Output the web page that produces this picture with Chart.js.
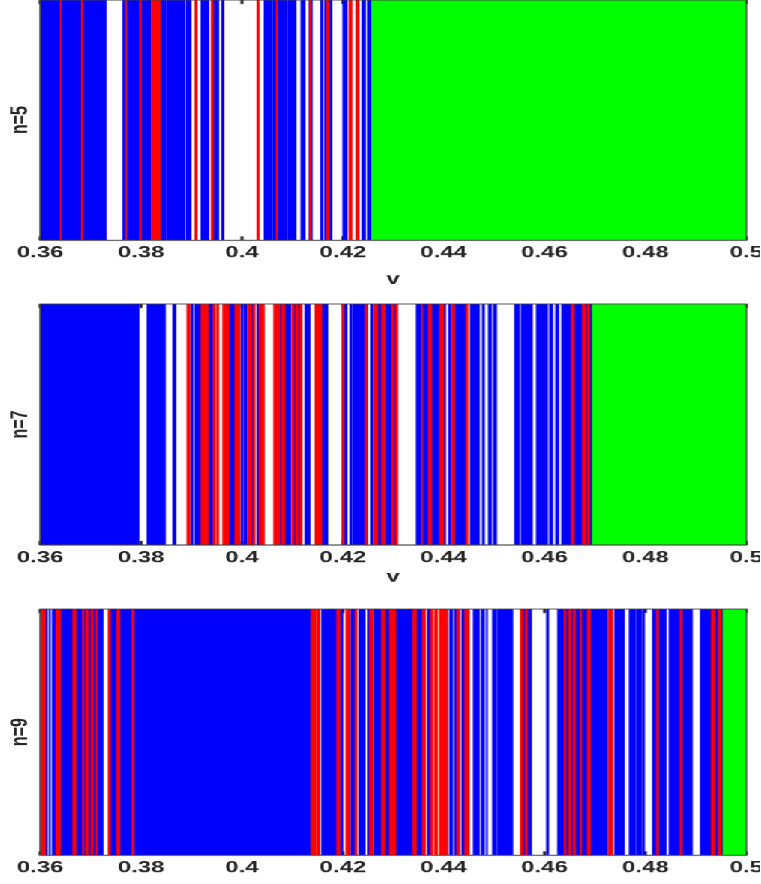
<!DOCTYPE html>
<html>
<head>
<meta charset="utf-8">
<script src="https://cdn.jsdelivr.net/npm/chart.js@4.4.1/dist/chart.umd.min.js"></script>
<style>
  html, body { margin: 0; padding: 0; background: #fff; overflow: hidden; width: 761px; height: 884px; }
  /* the original figure is stretched sideways, so the whole page is drawn narrow and widened */
  #stretch { position: absolute; left: 0; top: 0; width: 507.333px; height: 884px; transform: scaleX(1.5); transform-origin: 0 0; }
  .panel { position: absolute; left: 0; width: 507.333px; }
</style>
</head>
<body>
<div id="stretch">
  <div class="panel" style="top:-5px;height:295px"><canvas id="c5"></canvas></div>
  <div class="panel" style="top:299px;height:296px"><canvas id="c7"></canvas></div>
  <div class="panel" style="top:604px;height:301px"><canvas id="c9"></canvas></div>
</div>
<script>
const band = ['band'];
const xTicks = [0.36, 0.38, 0.40, 0.42, 0.44, 0.46, 0.48, 0.50];

// n=5 : intervals of v
const blue5 = [[0.3600,0.3731],[0.3764,0.3820],[0.3838,0.3849],[0.3851,0.3887],[0.3890,0.3899],
  [0.3919,0.3934],[0.3943,0.3954],[0.3960,0.3964],[0.4044,0.4059],[0.4061,0.4089],[0.4091,0.4107],
  [0.4117,0.4125],[0.4133,0.4139],[0.4156,0.4160],[0.4164,0.4178],[0.4200,0.4208],[0.4238,0.4245],
  [0.4249,0.4255]];
const red5 = [[0.3640,0.3642],[0.3682,0.3684],[0.3769,0.3771],[0.3797,0.3800],[0.3822,0.3838],
  [0.3907,0.3911],[0.3939,0.3943],[0.4030,0.4034],[0.4068,0.4070],[0.4134,0.4136],[0.4168,0.4172],
  [0.4212,0.4218],[0.4226,0.4232]];
const green5 = [[0.4255,0.5000]];

// n=7
const blue7 = [[0.3600,0.3796],[0.3812,0.3848],[0.3863,0.3869],[0.3899,0.3903],[0.3907,0.3919],
  [0.3933,0.3943],[0.3970,0.3986],[0.3998,0.4002],[0.4004,0.4010],[0.4018,0.4022],[0.4030,0.4034],
  [0.4075,0.4079],[0.4085,0.4097],[0.4103,0.4115],[0.4125,0.4135],[0.4158,0.4170],[0.4202,0.4208],
  [0.4214,0.4218],[0.4220,0.4244],[0.4255,0.4259],[0.4269,0.4277],[0.4285,0.4297],[0.4301,0.4305],
  [0.4346,0.4356],[0.4358,0.4370],[0.4376,0.4392],[0.4400,0.4404],[0.4410,0.4414],[0.4422,0.4444],
  [0.4453,0.4471],[0.4477,0.4481],[0.4489,0.4495],[0.4499,0.4505],[0.4541,0.4550],[0.4554,0.4576],
  [0.4584,0.4606],[0.4610,0.4616],[0.4622,0.4628],[0.4634,0.4675],[0.4681,0.4693]];
const red7 = [[0.3891,0.3897],[0.3919,0.3933],[0.3943,0.3947],[0.3950,0.3954],[0.3962,0.3970],
  [0.3972,0.3974],[0.3986,0.3996],[0.4012,0.4018],[0.4022,0.4026],[0.4034,0.4044],[0.4063,0.4075],
  [0.4079,0.4085],[0.4099,0.4103],[0.4107,0.4111],[0.4115,0.4119],[0.4145,0.4158],[0.4198,0.4202],
  [0.4244,0.4249],[0.4261,0.4269],[0.4277,0.4283],[0.4297,0.4301],[0.4305,0.4309],[0.4356,0.4358],
  [0.4370,0.4376],[0.4392,0.4400],[0.4416,0.4422],[0.4444,0.4448],[0.4653,0.4659],[0.4675,0.4681],
  [0.4685,0.4689]];
const green7 = [[0.4693,0.5000]];

// n=9
const blue9 = [[0.3610,0.3614],[0.3618,0.3620],[0.3624,0.3632],[0.3640,0.3665],[0.3671,0.3691],
  [0.3695,0.3701],[0.3705,0.3725],[0.3739,0.3752],[0.3758,0.4137],[0.4158,0.4188],[0.4194,0.4200],
  [0.4216,0.4224],[0.4232,0.4244],[0.4249,0.4253],[0.4261,0.4277],[0.4283,0.4293],[0.4305,0.4339],
  [0.4346,0.4358],[0.4368,0.4374],[0.4412,0.4418],[0.4422,0.4426],[0.4436,0.4442],[0.4459,0.4471],
  [0.4475,0.4481],[0.4485,0.4487],[0.4497,0.4505],[0.4507,0.4537],[0.4556,0.4562],[0.4566,0.4574],
  [0.4604,0.4608],[0.4626,0.4636],[0.4663,0.4671],[0.4673,0.4683],[0.4693,0.4725],[0.4739,0.4758],
  [0.4768,0.4780],[0.4782,0.4792],[0.4794,0.4798],[0.4814,0.4822],[0.4826,0.4841],[0.4847,0.4869],
  [0.4873,0.4893],[0.4909,0.4931],[0.4937,0.4944],[0.4950,0.4952],
  [0.4636,0.4647],[0.4653,0.4657],[0.4661,0.4663],[0.4683,0.4685],[0.4691,0.4693]];
const red9 = [[0.3600,0.3610],[0.3632,0.3640],[0.3665,0.3671],[0.3684,0.3687],[0.3691,0.3695],
  [0.3701,0.3705],[0.3711,0.3713],[0.3735,0.3739],[0.3752,0.3758],[0.3782,0.3786],[0.4137,0.4146],
  [0.4148,0.4154],[0.4188,0.4194],[0.4206,0.4214],[0.4224,0.4228],[0.4253,0.4259],[0.4277,0.4283],
  [0.4293,0.4305],[0.4339,0.4346],[0.4358,0.4364],[0.4374,0.4378],[0.4382,0.4388],[0.4392,0.4408],
  [0.4426,0.4432],[0.4442,0.4451],[0.4552,0.4556],[0.4562,0.4566],[0.4639,0.4642],[0.4648,0.4651],
  [0.4657,0.4661],[0.4671,0.4673],[0.4685,0.4691],[0.4727,0.4735],[0.4822,0.4826],[0.4869,0.4873],
  [0.4931,0.4937],[0.4944,0.4950]];
const green9 = [[0.4952,0.5000]];

const ink = '#262626';

// inward tick marks under the bars, box on top
const frame = {
  id: 'frame',
  beforeDatasetsDraw(chart) {
    const { ctx, chartArea: a, scales: { x } } = chart;
    ctx.save();
    ctx.strokeStyle = ink;
    ctx.lineWidth = 2;
    x.ticks.forEach(t => {
      const px = x.getPixelForValue(t.value);
      ctx.beginPath();
      ctx.moveTo(px, a.top); ctx.lineTo(px, a.top + 4);
      ctx.moveTo(px, a.bottom); ctx.lineTo(px, a.bottom - 4);
      ctx.stroke();
    });
    ctx.restore();
  },
  afterDatasetsDraw(chart) {
    const { ctx, chartArea: a } = chart;
    ctx.save();
    ctx.strokeStyle = '#404040';
    ctx.lineWidth = 1;
    ctx.strokeRect(a.left, a.top, a.right - a.left, a.bottom - a.top);
    ctx.restore();
  }
};

const toBars = list => list.map(r => ({ x: r, y: band[0] }));

function makePanel(id, label, red, blue, green, vPad) {
  new Chart(document.getElementById(id), {
    type: 'bar',
    data: {
      labels: band,
      datasets: [
        { data: toBars(red), backgroundColor: '#ff0000' },
        { data: toBars(blue), backgroundColor: '#0000ff' },
        { data: toBars(green), backgroundColor: '#00ff00' }
      ]
    },
    options: {
      indexAxis: 'y',
      responsive: true,
      maintainAspectRatio: false,
      devicePixelRatio: 1.5,
      animation: false,
      events: [],
      layout: { padding: { top: 5, right: 9.333, left: 0, bottom: 0 } },
      datasets: { bar: { grouped: false, categoryPercentage: 1, barPercentage: 1, borderWidth: 0 } },
      plugins: { legend: { display: false }, tooltip: { enabled: false } },
      scales: {
        x: {
          type: 'linear', min: 0.36, max: 0.5,
          afterBuildTicks: s => { s.ticks = xTicks.map(v => ({ value: v })); },
          ticks: {
            callback: v => String(+v.toFixed(2)),
            font: { family: 'Liberation Sans', size: 16, weight: 'bold' },
            color: ink, padding: 3, maxRotation: 0, autoSkip: false
          },
          grid: { display: false, drawTicks: false },
          border: { display: false },
          title: {
            display: true, text: 'v', color: ink,
            font: { family: 'Liberation Sans', size: 16, weight: 'bold' },
            padding: { top: 0, bottom: vPad }
          },
          afterFit: s => { s.height = 50; s.paddingLeft = 0; s.paddingRight = 0; }
        },
        y: {
          type: 'category',
          ticks: { display: false },
          grid: { display: false, drawTicks: false },
          border: { display: false },
          title: {
            display: true, text: label, color: ink,
            font: { family: 'Liberation Sans', size: 16, weight: 'bold' },
            padding: { top: 4, bottom: 0 }
          },
          afterFit: s => { s.width = 26.667; s.paddingTop = 0; s.paddingBottom = 0; }
        }
      }
    },
    plugins: [frame]
  });
}

makePanel('c5', 'n=5', red5, blue5, green5, 1.4);
makePanel('c7', 'n=7', red7, blue7, green7, 8.4);
makePanel('c9', 'n=9', red9, blue9, green9, 0);
</script>
</body>
</html>
